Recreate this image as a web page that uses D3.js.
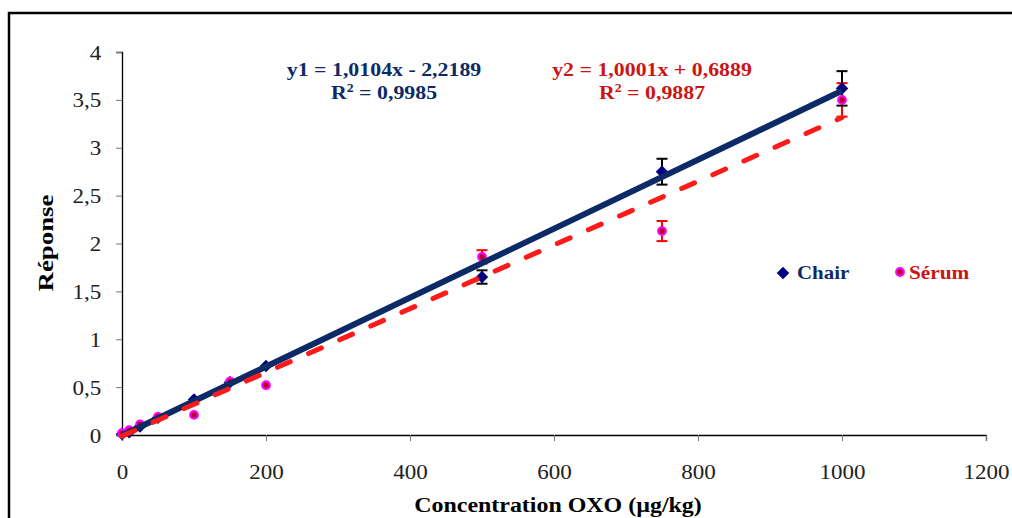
<!DOCTYPE html>
<html>
<head>
<meta charset="utf-8">
<script src="https://cdn.jsdelivr.net/npm/d3@7"></script>
<style>
  body { margin: 0; background: #fff; }
  text { font-family: "Liberation Serif", "Times New Roman", serif; }
</style>
</head>
<body>
<div id="chart"></div>
<script>
var width = 1012;
var height = 518;

// concentrations (µg/kg)
var conc = [0, 10, 25, 50, 100, 150, 200, 500, 750, 1000];
// responses
var chair = [0.01, 0.03, 0.09, 0.18, 0.37, 0.55, 0.72, 1.65, 2.75, 3.62];
var chairErr = [0, 0, 0, 0, 0, 0, 0, 0.07, 0.135, 0.18];
var serum = [0.02, 0.05, 0.11, 0.19, 0.21, 0.56, 0.52, 1.86, 2.13, 3.50];
var serumErr = [0, 0, 0, 0, 0, 0, 0, 0.07, 0.105, 0.175];

var xTicks = [0, 200, 400, 600, 800, 1000, 1200];
var yTicks = [0, 0.5, 1, 1.5, 2, 2.5, 3, 3.5, 4];

var navy = '#0b2a66';
var red = '#cc1414';
var stretch = 1.15; // the original font is a bit wider than Times

var margin = {left: 122, top: 52, right: 26, bottom: 83};

var svg = d3.select('#chart')
  .append('svg')
    .attr('width', width)
    .attr('height', height);

// outer frame of the chart area
svg.append('rect')
  .attr('x', 9).attr('y', 13)
  .attr('width', 1100).attr('height', 600)
  .attr('fill', 'none')
  .attr('stroke', '#000')
  .attr('stroke-width', 2.5);

var x = d3.scaleLinear().domain([0, 1200]).range([margin.left, width - margin.right]);
var y = d3.scaleLinear().domain([0, 4]).range([height - margin.bottom, margin.top]);

var fmt = function(d) { return String(d).replace('.', ','); };

// text stretched horizontally around its anchor point
function label(px, py, sx, rot) {
  var g = svg.append('g')
    .attr('transform', 'translate(' + px + ',' + py + ')' + (rot ? ' rotate(' + rot + ')' : '') + ' scale(' + sx + ',1)');
  return g.append('text');
}

// axes
var xAxis = svg.append('g')
  .attr('transform', 'translate(0,' + y(0) + ')')
  .call(d3.axisBottom(x).tickValues(xTicks).tickSize(6).tickPadding(24).tickFormat(fmt));
var yAxis = svg.append('g')
  .attr('transform', 'translate(' + x(0) + ',0)')
  .call(d3.axisLeft(y).tickValues(yTicks).tickSize(6).tickPadding(12).tickFormat(fmt));

[xAxis, yAxis].forEach(function(a) {
  a.select('.domain').attr('stroke', '#000').attr('stroke-width', 1.3);
  a.selectAll('.tick line').attr('stroke', '#777');
  a.selectAll('.tick text')
    .attr('font-family', '"Liberation Serif", serif')
    .attr('font-size', 20)
    .attr('fill', '#222')
    .attr('transform', 'scale(' + stretch + ',1)');
});
yAxis.selectAll('.tick text').attr('dy', '0.35em');

// axis titles
label(558, 512, 1.14).attr('text-anchor', 'middle')
  .attr('font-size', 21).attr('font-weight', 'bold')
  .text('Concentration OXO (µg/kg)');

label(53, 243, 1.22, -90).attr('text-anchor', 'middle')
  .attr('font-size', 22).attr('font-weight', 'bold')
  .text('Réponse');

// least squares trend line, like the spreadsheet does it
function fit(xs, ys) {
  var mx = d3.mean(xs), my = d3.mean(ys);
  var sxy = d3.sum(xs, (v, i) => (v - mx) * (ys[i] - my));
  var sxx = d3.sum(xs, v => (v - mx) * (v - mx));
  var m = sxy / sxx;
  return {m: m, b: my - m * mx};
}

var rows = conc.map((c, i) => ({c: c, chair: chair[i], ce: chairErr[i], serum: serum[i], se: serumErr[i]}));

// error bars
function errorBars(key, errKey, color) {
  var g = svg.append('g').attr('stroke', color).attr('stroke-width', 2);
  var r = rows.filter(d => d[errKey] > 0);
  g.selectAll('.v').data(r).join('line')
    .attr('x1', d => x(d.c)).attr('x2', d => x(d.c))
    .attr('y1', d => y(d[key] - d[errKey])).attr('y2', d => y(d[key] + d[errKey]));
  [-1, 1].forEach(function(s) {
    g.selectAll('.cap' + s).data(r).join('line')
      .attr('x1', d => x(d.c) - 5.5).attr('x2', d => x(d.c) + 5.5)
      .attr('y1', d => y(d[key] + s * d[errKey])).attr('y2', d => y(d[key] + s * d[errKey]));
  });
}
errorBars('serum', 'se', '#ff0000');
errorBars('chair', 'ce', '#000');

// markers
var diamond = d3.symbol().type(d3.symbolDiamond2).size(100);
svg.append('g').selectAll('path').data(rows).join('path')
  .attr('d', diamond)
  .attr('transform', d => 'translate(' + x(d.c) + ',' + y(d.chair) + ')')
  .attr('fill', '#000080');

svg.append('g').selectAll('circle').data(rows).join('circle')
  .attr('cx', d => x(d.c)).attr('cy', d => y(d.serum))
  .attr('r', 3.8)
  .attr('fill', '#b0001a')
  .attr('stroke', '#ff00ff')
  .attr('stroke-width', 2.2);

// trend lines
var f1 = fit(conc, chair);
var f2 = fit(conc, serum);
var xr = d3.extent(conc);

svg.append('line')
  .attr('x1', x(xr[0])).attr('y1', y(f1.b + f1.m * xr[0]))
  .attr('x2', x(xr[1])).attr('y2', y(f1.b + f1.m * xr[1]))
  .attr('stroke', navy).attr('stroke-width', 6);

svg.append('line')
  .attr('x1', x(xr[0])).attr('y1', y(f2.b + f2.m * xr[0]))
  .attr('x2', x(xr[1])).attr('y2', y(f2.b + f2.m * xr[1]))
  .attr('stroke', '#ff1a1a').attr('stroke-width', 5)
  .attr('stroke-linecap', 'round')
  .attr('stroke-dasharray', '14 20');

// equations
var eq = [
  {x: 384, text: 'y1 = 1,0104x - 2,2189', r2: '0,9985', color: navy},
  {x: 652, text: 'y2 = 1,0001x + 0,6889', r2: '0,9887', color: red}
];
eq.forEach(function(e) {
  label(e.x, 76, stretch)
    .attr('text-anchor', 'middle')
    .attr('font-size', 19).attr('font-weight', 'bold')
    .attr('fill', e.color)
    .text(e.text);
  var t = label(e.x, 99, stretch)
    .attr('text-anchor', 'middle')
    .attr('font-size', 19).attr('font-weight', 'bold')
    .attr('fill', e.color);
  t.append('tspan').text('R');
  t.append('tspan').attr('font-size', 12).attr('dy', -7).text('2');
  t.append('tspan').attr('dy', 7).text(' = ' + e.r2);
});

// legend
svg.append('path')
  .attr('d', diamond)
  .attr('transform', 'translate(783,273)')
  .attr('fill', '#000080');
label(797, 279, 1.1)
  .attr('font-size', 19).attr('font-weight', 'bold')
  .attr('fill', navy)
  .text('Chair');
svg.append('circle')
  .attr('cx', 900).attr('cy', 272).attr('r', 3.8)
  .attr('fill', '#b0001a').attr('stroke', '#ff00ff').attr('stroke-width', 2.2);
label(909, 279, 1.12)
  .attr('font-size', 19).attr('font-weight', 'bold')
  .attr('fill', red)
  .text('Sérum');
</script>
</body>
</html>
